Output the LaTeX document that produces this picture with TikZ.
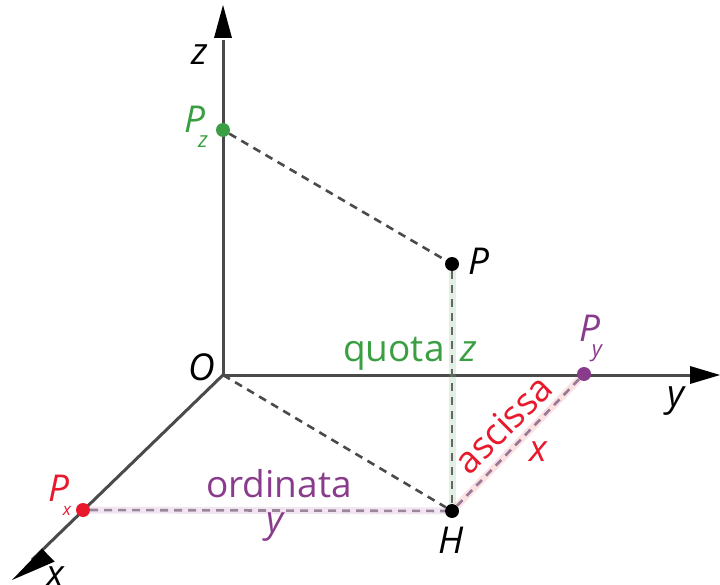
\documentclass[tikz,border=0pt]{standalone}
\usepackage{fontspec}
\setmainfont{Open Sans}
\usetikzlibrary{arrows.meta}
\definecolor{gr}{HTML}{3A9E42}
\definecolor{rd}{HTML}{E8192C}
\definecolor{pu}{HTML}{8A3C8C}
\definecolor{ax}{HTML}{4A4A4A}
\begin{document}
\begin{tikzpicture}[x=1pt,y=-1pt,
  axline/.style={ax,line width=3pt},
  dsh/.style={line width=2.6pt,dash pattern=on 8pt off 6pt},
  band/.style={line width=7pt,opacity=0.22},
  dot/.style={circle,fill,inner sep=0pt,minimum size=14pt},
  lbl/.style={inner sep=0pt,font=\fontsize{37}{40}\selectfont},
  ilbl/.style={inner sep=0pt,font=\fontsize{37}{40}\selectfont\itshape},
  sub/.style={inner sep=0pt,font=\fontsize{22}{24}\selectfont\itshape}]
\useasboundingbox (0,0) rectangle (720,585);
\coordinate (O) at (223,375);
\coordinate (ztip) at (223,5);
\coordinate (ytip) at (720,375);
\coordinate (xtip) at (12,580);
\coordinate (zb) at (223,40);
\coordinate (yb) at (692,375);
\coordinate (xb) at (32,560);
% axes
\draw[axline] (O) -- (zb);
\draw[axline] (O) -- (yb);
\draw[axline] (O) -- (xb);
\fill[black] (ztip) -- ++(-9,33) -- ++(18,0) -- cycle;
\fill[black] (ytip) -- ++(-30,-9) -- ++(0,18) -- cycle;
\fill[black] (xtip) -- (54.6,561.6) -- (42.1,548.7) -- cycle;
% points
\node[dot,gr] (Pz) at (223,130) {};
\node[dot,black] (P) at (452,264) {};
\node[dot,pu] (Py) at (584,374) {};
\node[dot,rd] (Px) at (83,510) {};
\node[dot,black] (H) at (452,511) {};
% dashed connectors
\draw[dsh,ax] (Pz) -- (P);
\draw[dsh,ax] (O) -- (H);
\draw[band,gr!70] (P) -- (H);
\draw[dsh,ax!85] (P) -- (H);
\draw[band,pu!60] (Px) -- (H);
\draw[dsh,pu!35!gray!80] (Px) -- (H);
\draw[band,rd!60] (Py) -- (H);
\draw[dsh,pu!45!gray!85] (Py) -- (H);
% labels
\node[ilbl] (lz) at (200,55) {z};
\node[ilbl] (ly) at (676,401) {y};
\node[ilbl] (lx) at (55,577) {x};
\node[ilbl] (lO) at (202,367) {O};
\node[ilbl] (lP) at (479,261) {P};
\node[ilbl] (lH) at (451,540) {H};
\node[ilbl,gr] (lPz) at (195,119) {P};
\node[sub,gr] (lPzs) at (203,142) {z};
\node[ilbl,pu] (lPy) at (590,328) {P};
\node[sub,pu] (lPys) at (597,353) {y};
\node[ilbl,rd] (lPx) at (59,488) {P};
\node[sub,rd,font=\fontsize{17}{18}\selectfont\itshape] (lPxs) at (67,511) {x};
\node[lbl,gr,anchor=base west] (quota) at (343,361) {quota\hspace{16pt}\textit{z}};
\node[lbl,pu,anchor=base west] (ord) at (206,497) {ordinata};
\node[ilbl,pu] (ordy) at (275,527) {y};
\node[lbl,rd,rotate=45] (asc) at (503,424) {ascissa};
\node[ilbl,rd] (ascx) at (538,452) {x};
\end{tikzpicture}
\end{document}
